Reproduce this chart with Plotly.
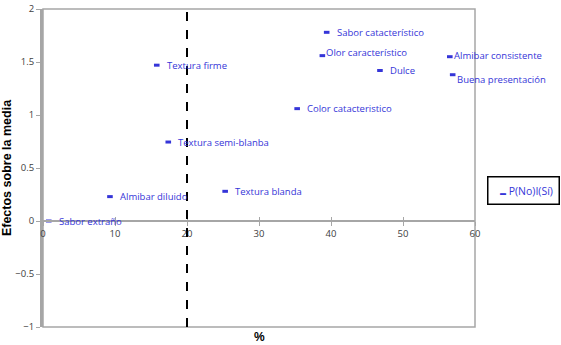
import plotly.graph_objects as go

labels = ["Sabor extraño", "Almibar diluido", "Textura firme", "Textura semi-blanba",
          "Textura blanda", "Color catacteristico", "Sabor catacterístico",
          "Olor característico", "Dulce", "Almibar consistente", "Buena presentación"]
pct = [0.8, 9.3, 15.8, 17.4, 25.3, 35.3, 39.4, 38.8, 46.8, 56.5, 56.9]
effect = [0.0, 0.23, 1.47, 0.745, 0.28, 1.06, 1.78, 1.56, 1.42, 1.55, 1.38]
# label offsets (px) relative to marker
label_dx = [8, 8, 8, 8, 8, 8, 8, 2, 8, 2, 2]
label_dy = [0, 0, 0, 0, 0, 0, 0, 3, 0, 1, -5]

series_name = "P(No)I(Sí)"
x_ticks = [0, 10, 20, 30, 40, 50, 60]
y_ticks = [-1, -0.5, 0, 0.5, 1, 1.5, 2]
cut_x = 20

blue = "#3535d8"
font_lbl = "Open Sans, Liberation Sans, sans-serif"

fig = go.Figure()
fig.add_trace(go.Scatter(
    x=pct, y=effect, mode="markers", name=series_name,
    marker=dict(symbol="line-ew", size=4, line=dict(width=3, color=blue), color=blue),
    showlegend=False,
))

for lb, xv, yv, dx, dy in zip(labels, pct, effect, label_dx, label_dy):
    fig.add_annotation(x=xv, y=yv, text=lb, showarrow=False, xanchor="left",
                       yanchor="middle", xshift=dx, yshift=dy,
                       font=dict(family=font_lbl, size=9.5, color=blue))

# dashed vertical reference line
fig.add_shape(type="line", x0=cut_x, x1=cut_x, y0=y_ticks[0], y1=y_ticks[-1],
              xref="x", yref="y", line=dict(color="black", width=2, dash="dash"))

# plot frame
fig.add_shape(type="rect", x0=0, x1=1, y0=0, y1=1, xref="x domain", yref="y domain",
              line=dict(color="#a6a6a6", width=1.5), layer="below")

tickfont = dict(family=font_lbl, size=9.5, color="#404040")

fig.update_layout(
    width=561, height=345,
    margin=dict(l=43, r=86, t=9, b=18, autoexpand=False),
    plot_bgcolor="white", paper_bgcolor="white",
    showlegend=False,
    xaxis=dict(range=[x_ticks[0], x_ticks[-1]], tickvals=x_ticks, ticks="outside",
               ticklen=4, tickcolor="#a6a6a6", showgrid=False, zeroline=False,
               showline=True, linecolor="#a6a6a6", linewidth=1.5, automargin=False,
               anchor="free", position=1/3, tickfont=tickfont),
    xaxis2=dict(range=[x_ticks[0], x_ticks[-1]], tickvals=x_ticks, ticks="inside",
                ticklen=4, tickcolor="#a6a6a6", showgrid=False, zeroline=False,
                showticklabels=False, overlaying="x", anchor="free", position=1/3,
                automargin=False),
    yaxis=dict(range=[y_ticks[0], y_ticks[-1]], tickvals=y_ticks, ticks="outside",
               ticklen=4, tickcolor="#a6a6a6", showgrid=False, zeroline=False,
               showline=True, linecolor="#a6a6a6", linewidth=3, tickfont=tickfont,
               automargin=False,
               title=dict(text="<b>Efectos sobre la media</b>", standoff=2,
                          font=dict(family="Liberation Sans, Arial, sans-serif", size=12.5, color="black"))),
)
# dummy trace to activate xaxis2 for inner ticks
fig.add_trace(go.Scatter(x=[None], y=[None], xaxis="x2", showlegend=False, hoverinfo="skip"))

# legend box (compact, like the reference)
fig.add_annotation(text="&nbsp;&nbsp;<span style='font-size:6px'>▬</span> " + series_name,
                   x=1.028, y=0.43, xref="paper", yref="paper", xanchor="left",
                   yanchor="middle", showarrow=False, bordercolor="black",
                   borderwidth=1.5, borderpad=6, bgcolor="white",
                   font=dict(family=font_lbl, size=10.5, color=blue))

fig.add_annotation(text="<b>%</b>", x=0.5, y=0, xref="paper", yref="paper",
                   yshift=-10, showarrow=False, yanchor="middle",
                   font=dict(family="Liberation Sans, Arial, sans-serif", size=12, color="black"))

fig.write_html("out.html")
